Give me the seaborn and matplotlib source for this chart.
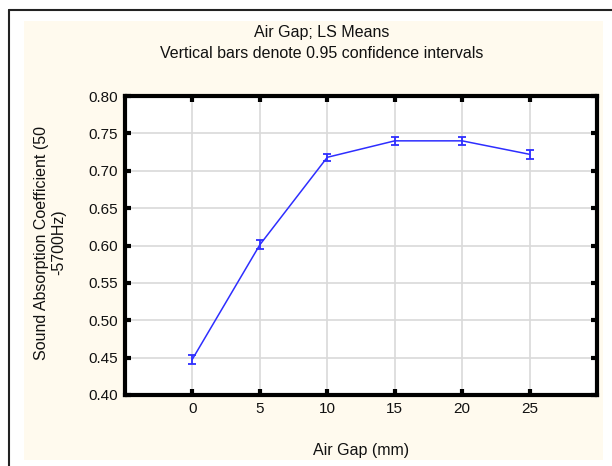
import matplotlib
matplotlib.use("Agg")
import matplotlib.pyplot as plt
import seaborn as sns
import pandas as pd
from matplotlib.patches import Rectangle
from matplotlib.lines import Line2D

air_gap = [0, 5, 10, 15, 20, 25]
ls_means = [0.448, 0.601, 0.718, 0.740, 0.740, 0.722]
ci_half = [0.006, 0.006, 0.005, 0.005, 0.005, 0.006]
y_ticks = [0.40, 0.45, 0.50, 0.55, 0.60, 0.65, 0.70, 0.75, 0.80]

df = pd.DataFrame({"gap": air_gap, "mean": ls_means, "ci": ci_half})

sns.set_style("white")
plt.rcParams['font.family'] = ['Liberation Sans', 'DejaVu Sans']
plt.rcParams['text.color'] = '#111111'
plt.rcParams['axes.labelcolor'] = '#111111'
plt.rcParams['xtick.labelcolor'] = '#111111'
plt.rcParams['ytick.labelcolor'] = '#111111'

fig = plt.figure(figsize=(6.12, 4.66), dpi=100)
W, H = 612, 466

def fx(x):
    return x / W

def fy(y):
    return 1 - y / H

# background panel and frame
fig.patches.append(Rectangle((fx(24), fy(460)), fx(603 - 24), (460 - 21) / H,
                             transform=fig.transFigure, facecolor='#fffaee',
                             edgecolor='none', zorder=-5))
fig.lines.append(Line2D([fx(9), fx(9)], [fy(10), 0], transform=fig.transFigure,
                        color='#222222', lw=1.5, zorder=-4))
fig.lines.append(Line2D([fx(9), 1], [fy(10), fy(10)], transform=fig.transFigure,
                        color='#222222', lw=1.5, zorder=-4))

ax = fig.add_axes([fx(125), fy(395), (597 - 125) / W, (395 - 96) / H])
ax.set_zorder(2)
ax.set_facecolor('white')

sns.lineplot(data=df, x="gap", y="mean", ax=ax, color='#2e2eff', lw=1.1,
             zorder=3)
ax.errorbar(df["gap"], df["mean"], yerr=df["ci"], fmt='none', ecolor='#2e2eff',
            elinewidth=1.3, capsize=3, capthick=1.3, zorder=4)

ax.set_xlim(-5, 30)
ax.set_ylim(0.40, 0.80)
ax.set_xticks(air_gap)
ax.set_xticklabels([str(v) for v in air_gap])
ax.set_yticks(y_ticks)
ax.set_yticklabels([f"{v:.2f}" for v in y_ticks])
ax.grid(True, color='#d9d9d9', lw=1.2)
ax.set_axisbelow(True)

for s in ax.spines.values():
    s.set_visible(True)
    s.set_color('black')
    s.set_linewidth(3)

ax.tick_params(axis='both', direction='in', length=4, width=3, color='black',
               top=True, right=True, bottom=True, left=True,
               labelsize=11, pad=5)
ax.tick_params(axis='x', pad=5)

ax.set_xlabel("Air Gap (mm)", fontsize=11.5)
ax.xaxis.set_label_coords(0.5, (395 - 443) / 299)
ax.set_ylabel("Sound Absorption Coefficient (50\n-5700Hz)", fontsize=11.5,
              linespacing=1.2)
ax.yaxis.set_label_coords((66 - 125) / 472, 0.51)

fig.text(fx(322), fy(32), "Air Gap; LS Means", ha='center',
         va='center', fontsize=11.5)
fig.text(fx(322), fy(53),
         "Vertical bars denote 0.95 confidence intervals", ha='center',
         va='center', fontsize=11.5)

fig.savefig("out.png", dpi=100)
